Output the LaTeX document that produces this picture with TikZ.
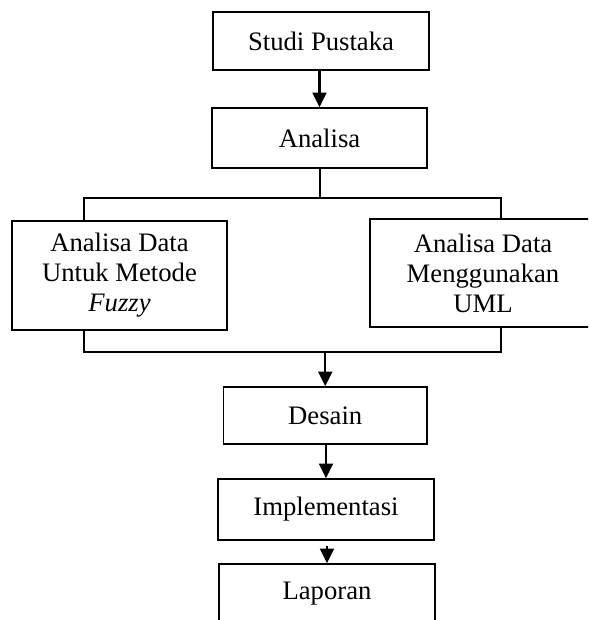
\documentclass[tikz,border=0pt]{standalone}
\usepackage{fontspec}
\setmainfont{Liberation Serif}
\usetikzlibrary{arrows.meta,calc}
\begin{document}
\begin{tikzpicture}[x=0.75pt,y=-0.75pt,
  box/.style={draw=black,line width=1.2pt,inner sep=0pt,align=center,
    font=\fontsize{20}{22.5}\selectfont},
  line/.style={line width=1.3pt},
  arr/.style={line width=1.8pt,-{Triangle[width=10.5pt,length=11pt]}}]
\useasboundingbox (0,0) rectangle (588,620);
\clip (0,0) rectangle (588,620);
\node[box,minimum width=162pt,minimum height=43.5pt] (studi) at (321,41) {Studi Pustaka};
\node[box,minimum width=161.25pt,minimum height=45pt] (analisa) at (319.5,138) {Analisa};
\node[box,minimum width=161.25pt,minimum height=81.75pt] (left) at (119.5,275.5) {Analisa Data\\Untuk Metode\\\textit{Fuzzy}};
\node[box,minimum width=169.5pt,minimum height=81pt] (right) at (483,273) {Analisa Data\\Menggunakan\\UML};
\node[box,minimum width=152.6pt,minimum height=42.75pt] (desain) at (325.25,415.5) {Desain};
\node[box,minimum width=162pt,minimum height=45.75pt] (impl) at (326,509.5) {Implementasi};
\node[box,minimum width=162pt,minimum height=45pt] (lap) at (327,594) {Laporan};
\coordinate (mt) at (320,198);
\coordinate (lt) at (84,198);
\coordinate (rt) at (501,198);
\coordinate (lb) at (84,352);
\coordinate (rb) at (501,352);
\coordinate (mb) at (desain.north |- lb);
\draw[arr] (analisa.north |- studi.south) -- (analisa.north);
\draw[line] (analisa.south -| mt) -- (mt);
\draw[line] (left.north -| lt) -- (lt) -- (rt) -- (right.north -| rt);
\draw[line] (left.south -| lb) -- (lb) -- (rb) -- (right.south -| rb);
\draw[arr] (mb) -- (desain.north);
\draw[arr] (impl.north |- desain.south) -- (impl.north);
\draw[arr,shorten <=3.75pt] (lap.north |- impl.south) -- (lap.north);
\end{tikzpicture}
\end{document}
